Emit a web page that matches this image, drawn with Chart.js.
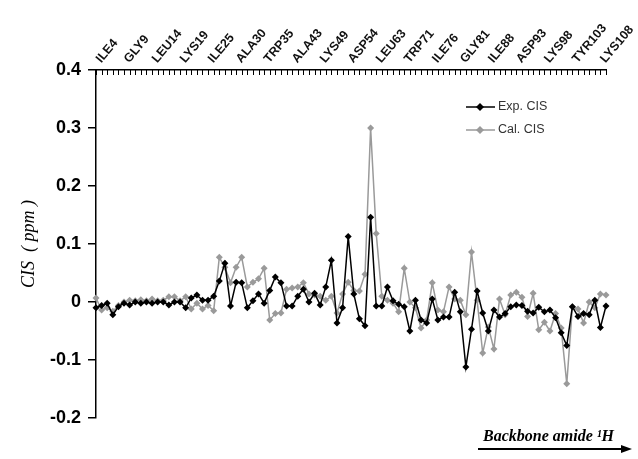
<!DOCTYPE html>
<html>
<head>
<meta charset="utf-8">
<script src="https://cdn.jsdelivr.net/npm/chart.js@4.4.1/dist/chart.umd.min.js"></script>
<style>
  html, body { margin: 0; padding: 0; background: #fff; }
  #wrap { width: 638px; height: 459px; position: relative; }
</style>
</head>
<body>
<div id="wrap"><canvas id="cisChart"></canvas></div>
<script>
/* residue labels, one every 5th point */
const residueLabels = ['ILE4', 'GLY9', 'LEU14', 'LYS19', 'ILE25', 'ALA30', 'TRP35', 'ALA43', 'LYS49', 'ASP54',
  'LEU63', 'TRP71', 'ILE76', 'GLY81', 'ILE88', 'ASP93', 'LYS98', 'TYR103', 'LYS108'];

const expCIS = [
  -0.010, -0.006, -0.002, -0.022, -0.008, -0.002, -0.005, 0.000, -0.002, 0.000,
  -0.002, 0.000, 0.000, -0.005, 0.000, 0.000, -0.010, 0.007, 0.012, 0.003,
  0.003, 0.010, 0.036, 0.067, -0.007, 0.034, 0.033, -0.010, 0.002, 0.014,
  -0.002, 0.020, 0.043, 0.033, -0.007, -0.007, 0.010, 0.022, 0.000, 0.015,
  -0.005, 0.026, 0.072, -0.036, -0.010, 0.113, 0.014, -0.029, -0.041, 0.146,
  -0.007, -0.007, 0.026, 0.002, -0.004, -0.008, -0.050, 0.003, -0.031, -0.036,
  0.005, -0.031, -0.026, -0.026, 0.017, -0.017, -0.112, -0.047, 0.019, -0.019,
  -0.050, -0.014, -0.026, -0.020, -0.008, -0.005, -0.006, -0.016, -0.019, -0.009,
  -0.017, -0.014, -0.027, -0.053, -0.075, -0.008, -0.025, -0.020, -0.022, 0.003,
  -0.044, -0.007
];

const calCIS = [
  0.007, -0.014, -0.010, -0.016, -0.006, 0.000, 0.003, 0.002, 0.004, 0.002,
  0.005, 0.002, 0.003, 0.009, 0.009, 0.002, 0.009, -0.012, -0.002, -0.012,
  -0.006, -0.015, 0.077, 0.060, 0.033, 0.060, 0.077, 0.026, 0.034, 0.040,
  0.058, -0.031, -0.020, -0.019, 0.022, 0.024, 0.026, 0.033, 0.014, 0.012,
  0.010, 0.003, 0.010, -0.019, 0.014, 0.034, 0.020, 0.019, 0.048, 0.300,
  0.118, 0.010, 0.003, -0.002, -0.017, 0.058, 0.000, -0.010, -0.045, -0.031,
  0.033, -0.014, -0.017, 0.026, 0.005, 0.003, -0.022, 0.086, 0.003, -0.088,
  -0.043, -0.081, 0.005, -0.022, 0.012, 0.017, 0.008, -0.025, 0.015, -0.048,
  -0.035, -0.050, -0.020, -0.045, -0.141, -0.008, -0.012, -0.036, 0.000, -0.010,
  0.014, 0.012
];

const pointIndex = expCIS.map((v, i) => i);

const seriesNames = ['Exp. CIS', 'Cal. CIS'];
const seriesColors = ['#000000', '#9a9a9a'];

// small ticks hanging under the top axis line, legend, and the bottom arrow
const extras = {
  id: 'extras',
  afterDraw(chart) {
    const c = chart.ctx;
    const xs = chart.scales.x;
    const top = chart.chartArea.top;
    c.save();
    c.strokeStyle = '#000';
    c.lineWidth = 1;
    pointIndex.forEach(i => {
      const px = Math.round(xs.getPixelForValue(i)) + 0.5;
      c.beginPath();
      c.moveTo(px, top);
      c.lineTo(px, top + 5);
      c.stroke();
    });

    // legend
    c.font = '12.5px "Liberation Sans", Arial, sans-serif';
    c.textBaseline = 'middle';
    seriesNames.forEach((name, k) => {
      const ly = 107 + k * 23;
      c.strokeStyle = seriesColors[k];
      c.fillStyle = seriesColors[k];
      c.lineWidth = 1.5;
      c.beginPath();
      c.moveTo(466, ly);
      c.lineTo(495, ly);
      c.stroke();
      c.beginPath();
      c.moveTo(480, ly - 4);
      c.lineTo(484, ly);
      c.lineTo(480, ly + 4);
      c.lineTo(476, ly);
      c.closePath();
      c.fill();
      c.fillStyle = '#333';
      c.fillText(name, 498, ly);
    });

    // axis caption with arrow
    c.fillStyle = '#000';
    c.textBaseline = 'alphabetic';
    c.font = 'italic bold 16px "Liberation Serif", serif';
    c.fillText('Backbone amide \u00B9H', 483, 441);
    c.strokeStyle = '#000';
    c.lineWidth = 2;
    c.beginPath();
    c.moveTo(478, 449);
    c.lineTo(624, 449);
    c.stroke();
    c.beginPath();
    c.moveTo(632, 449);
    c.lineTo(621, 445);
    c.lineTo(621, 453);
    c.closePath();
    c.fill();
    c.restore();
  }
};

const ctx = document.getElementById('cisChart').getContext('2d');
const cisChart = new Chart(ctx, {
  type: 'line',
  data: {
    labels: pointIndex,
    datasets: [{
      label: seriesNames[0],
      data: expCIS,
      borderColor: seriesColors[0],
      backgroundColor: seriesColors[0],
      borderWidth: 1.5,
      pointStyle: 'rectRot',
      pointRadius: 3.5,
      pointBorderWidth: 0,
      tension: 0
    }, {
      label: seriesNames[1],
      data: calCIS,
      borderColor: seriesColors[1],
      backgroundColor: seriesColors[1],
      borderWidth: 1.5,
      pointStyle: 'rectRot',
      pointRadius: 3.5,
      pointBorderWidth: 0,
      tension: 0
    }]
  },
  options: {
    responsive: true,
    maintainAspectRatio: false,
    animation: false,
    layout: {
      padding: { left: 0, top: 0, right: 32, bottom: 41 }
    },
    plugins: {
      legend: { display: false },
      tooltip: { enabled: false }
    },
    scales: {
      x: {
        type: 'category',
        position: 'top',
        offset: false,
        afterFit: function(scale) { scale.height = 70; },
        grid: { display: true, drawOnChartArea: false, drawTicks: false },
        border: { display: true, color: '#000', width: 1.5 },
        ticks: {
          autoSkip: false,
          maxRotation: 50,
          minRotation: 50,
          padding: 4,
          labelOffset: 14,
          color: '#111',
          font: { family: '"Liberation Sans", Arial, sans-serif', size: 12.5, weight: 'bold' },
          callback: function(value, index) {
            return index % 5 === 0 ? (residueLabels[index / 5] || '') : '';
          }
        }
      },
      y: {
        min: -0.2,
        max: 0.4,
        afterFit: function(scale) { scale.width = 96; },
        grid: { display: true, drawOnChartArea: false, color: '#000', tickLength: 8, lineWidth: 1.5 },
        border: { display: true, color: '#000', width: 1.5 },
        ticks: {
          stepSize: 0.1,
          padding: 7,
          color: '#000',
          font: { family: '"Liberation Sans", Arial, sans-serif', size: 18, weight: 'bold' },
          callback: function(value) {
            const v = Math.round(value * 10) / 10;
            return v === 0 ? '0' : v.toFixed(1);
          }
        },
        title: {
          display: true,
          text: 'CIS  ( ppm )',
          color: '#000',
          padding: { top: 18, bottom: 0 },
          font: { family: '"Liberation Serif", serif', size: 18, style: 'italic' }
        }
      }
    }
  },
  plugins: [extras]
});
</script>
</body>
</html>
